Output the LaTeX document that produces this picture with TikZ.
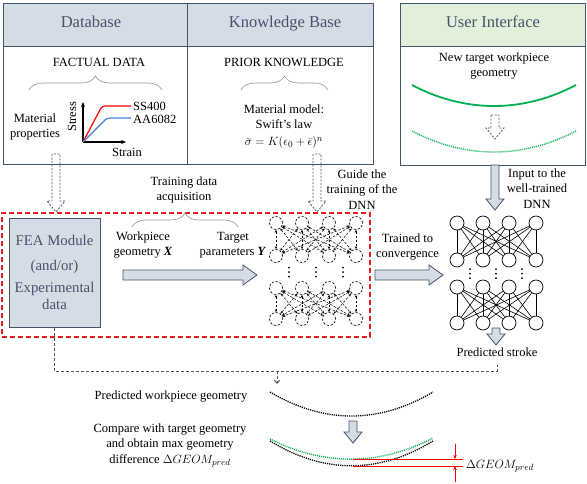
\documentclass[tikz,border=0pt]{standalone}
\usepackage{fontspec}
\setmainfont{Liberation Serif}
\usetikzlibrary{arrows,arrows.meta,shapes,positioning,calc,decorations.pathreplacing}

\definecolor{slate}{RGB}{68,84,106}
\definecolor{headblue}{RGB}{214,220,229}
\definecolor{headgreen}{RGB}{226,240,217}
\definecolor{curvegreen}{RGB}{0,176,80}
\definecolor{boxred}{RGB}{224,32,32}
\definecolor{curveblue}{RGB}{70,125,225}

% block arrows: [style]{x}{top y}{tip y} and [style]{y}{left x}{tip x}
\newcommand{\blockdown}[4][]{\draw[#1] (#2-4,#3) -- (#2-4,#4-11) -- (#2-9,#4-11) -- (#2,#4) -- (#2+9,#4-11) -- (#2+4,#4-11) -- (#2+4,#3) -- cycle;}
\newcommand{\blockright}[4][]{\draw[#1] (#3,#2-5) -- (#4-14,#2-5) -- (#4-14,#2-10) -- (#4,#2) -- (#4-14,#2+10) -- (#4-14,#2+5) -- (#3,#2+5) -- cycle;}

\begin{document}
\begin{tikzpicture}[x=1pt, y=-1pt,
    txt/.style={font=\fontsize{12.5}{15.5}\selectfont, align=center, inner sep=0pt},
    head/.style={font=\fontsize{16.5}{19}\selectfont, text=slate, inner sep=0pt, anchor=base},
    panel/.style={draw=slate, line width=1pt},
    brc/.style={draw=gray!85, line width=0.6pt, decorate, decoration={brace, amplitude=14pt}},
    fea/.style={rectangle, draw=slate, line width=1pt, fill=headblue, minimum width=91pt, minimum height=109pt, text=slate, font=\fontsize{14.8}{17}\selectfont, align=center},
    fill arrow/.style={draw=slate, line width=0.8pt, fill=headblue},
    hollow arrow/.style={draw=slate, line width=0.8pt, dash pattern=on 2pt off 1.5pt},
    dnode/.style={circle, draw, dash pattern=on 2.5pt off 1.5pt, line width=0.6pt, minimum size=13pt, inner sep=0pt},
    snode/.style={circle, draw, line width=0.7pt, minimum size=14pt, inner sep=0pt},
    dedge/.style={dash pattern=on 2.5pt off 1.5pt, line width=0.5pt, <->, >={Stealth[length=3pt, width=2.5pt]}},
    sedge/.style={line width=0.6pt},
    dline/.style={draw=slate, line width=1pt, dash pattern=on 3pt off 2pt},
    dotcurve/.style={line width=1.3pt, dash pattern=on 1.2pt off 1pt}]

    \useasboundingbox (0,0) rectangle (587,483);

    % Panels
    \fill[headblue] (3,3) rectangle (373,46);
    \fill[headgreen] (400,3) rectangle (585,46);
    \draw[panel] (3,3) rectangle (373,164) (3,46) -- (373,46) (187,3) -- (187,164);
    \draw[panel] (400,3) rectangle (585,165) (400,46) -- (585,46);
    \node[head] (database) at (91,27) {Database};
    \node[head] (knowledge) at (285,27) {Knowledge Base};
    \node[head] (ui) at (493,27) {User Interface};

    % Database
    \node[txt, anchor=base] (factual) at (99,66) {FACTUAL DATA};
    \draw[brc] (29,90) -- (162,90);
    \node[txt, anchor=north] (matprop) at (35,113.5) {Material\\properties};
    \coordinate (orig) at (83,142);
    \coordinate (ytip) at (83,102);
    \coordinate (xtip) at (126,142);
    \draw[line width=1.1pt, -{Stealth[length=5pt, width=4pt]}] (orig) -- (ytip);
    \draw[line width=1.1pt, -{Stealth[length=5pt, width=4pt]}] (orig) -- (xtip);
    \draw[red, line width=1.2pt, rounded corners=3pt] (orig) -- (102,106) -- (131,106);
    \draw[curveblue, line width=1.2pt, rounded corners=3pt] (orig) -- (107,118) -- (131,118);
    \node[txt, anchor=base west] (ss) at (133,110) {SS400};
    \node[txt, anchor=base west] (aa) at (133,123) {AA6082};
    \node[txt, rotate=90] (stress) at (72,117) {Stress};
    \node[txt, anchor=base] (strain) at (127,156) {Strain};

    % Knowledge base
    \node[txt, anchor=base] (prior) at (284,66) {PRIOR KNOWLEDGE};
    \draw[brc] (241,90) -- (328,90);
    \node[txt, anchor=north] (swift) at (284,104.5) {Material model:\\Swift's law\\[1.5pt]$\bar{\sigma} = K(\epsilon_0+\bar{\epsilon})^n$};

    % User interface
    \node[txt, anchor=north] (newgeom) at (494,52.5) {New target workpiece\\geometry};
    \draw[curvegreen, line width=1.8pt] (412,85) .. controls (465,113) and (523,113) .. (576,85);
    \blockdown[hollow arrow]{495}{115}{139}
    \draw[curvegreen, line width=1.4pt, dash pattern=on 1pt off 1pt] (412,131) .. controls (465,159) and (523,159) .. (576,131);

    % Training data acquisition
    \node[draw=boxred, line width=1.2pt, dash pattern=on 5pt off 3pt, minimum width=368pt, minimum height=124pt, inner sep=0pt] (train) at (186,275) {};
    \node[fea] (fea) at (54.5,272.5) {FEA Module\\[8pt](and/or)\\[5pt]Experimental\\data};
    \node[txt, anchor=north] (acq) at (184,176.5) {Training data\\acquisition};
    \draw[brc] (132,227) -- (238,227);
    \node[txt, anchor=north] (xin) at (143,231.5) {Workpiece\\geometry \textbf{\textit{X}}};
    \node[txt, anchor=north] (yout) at (233,232) {Target\\parameters \textbf{\textit{Y}}};
    \blockright[fill arrow]{275}{123}{257}
    \blockdown[hollow arrow]{56}{154}{212}
    \blockdown[hollow arrow]{317}{154}{212}
    \node[txt, anchor=north] (guide) at (362,169.5) {Guide the\\training of the\\DNN};

    % DNN being trained
    \foreach \i/\x in {1/276,2/302,3/329,4/356}
        \foreach \r/\y in {a/223,b/256,c/288,d/319}
            \node[dnode] (d\r\i) at (\x,\y) {};
    \foreach \i in {1,...,4}
        \foreach \k in {1,...,4} {
            \draw[dedge] (da\i) -- (db\k);
            \draw[dedge] (dc\i) -- (dd\k);
        }
    \foreach \x in {289,316,343}
        \foreach \y in {267.5,272,276.5}
            \fill (\x,\y) circle (1pt);

    % Well-trained DNN
    \blockdown[fill arrow]{495}{165}{210}
    \node[txt, anchor=north] (input) at (537,168.5) {Input to the\\well-trained\\DNN};
    \node[txt, anchor=north] (conv) at (407.5,233.5) {Trained to\\convergence};
    \blockright[fill arrow]{275}{375}{443}
    \foreach \i/\x in {1/457,2/483,3/509,4/536}
        \foreach \r/\y in {a/223,b/260,c/287,d/323}
            \node[snode] (s\r\i) at (\x,\y) {};
    \foreach \i in {1,...,4}
        \foreach \k in {1,...,4} {
            \draw[sedge] (sa\i) -- (sb\k);
            \draw[sedge] (sc\i) -- (sd\k);
        }
    \foreach \x in {470,496,522}
        \foreach \y in {269,273.5,278}
            \fill (\x,\y) circle (1pt);
    \blockdown[fill arrow]{496}{328}{345}
    \node[txt, anchor=base] (stroke) at (497,356) {Predicted stroke};

    % Prediction and comparison
    \coordinate (split) at (277,371);
    \coordinate (predtop) at (277,384);
    \draw[dline] (fea.south) |- (split) -| ($(stroke.south)+(0,9)$);
    \draw[dline, -{Straight Barb[length=3pt, width=5pt]}] (split) -- (predtop);
    \node[txt, anchor=base] (predgeom) at (171,399) {Predicted workpiece geometry};
    \draw[dotcurve] (270,392) .. controls (324,424) and (379,424) .. (433,392);
    \blockdown[fill arrow]{353}{421}{443}
    \node[txt, anchor=north] (compare) at (170,423.5) {Compare with target geometry\\and obtain max geometry\\difference $\Delta GEOM_{pred}$};
    \draw[curvegreen, line width=1.4pt, dash pattern=on 1pt off 1pt] (270,439) .. controls (324,466) and (379,466) .. (433,438);
    \draw[dotcurve] (270,441) .. controls (324,474) and (379,474) .. (433,441);
    \draw[red, line width=1pt] (353,459) -- (463,459) (353,466) -- (463,466);
    \draw[red, line width=0.6pt, -{Stealth[length=4pt, width=3.5pt]}] (455,444) -- (455,459);
    \draw[red, line width=0.6pt, -{Stealth[length=4pt, width=3.5pt]}] (455,482) -- (455,466);
    \node[txt, anchor=base] (delta) at (500,468) {$\Delta GEOM_{pred}$};

\end{tikzpicture}
\end{document}
